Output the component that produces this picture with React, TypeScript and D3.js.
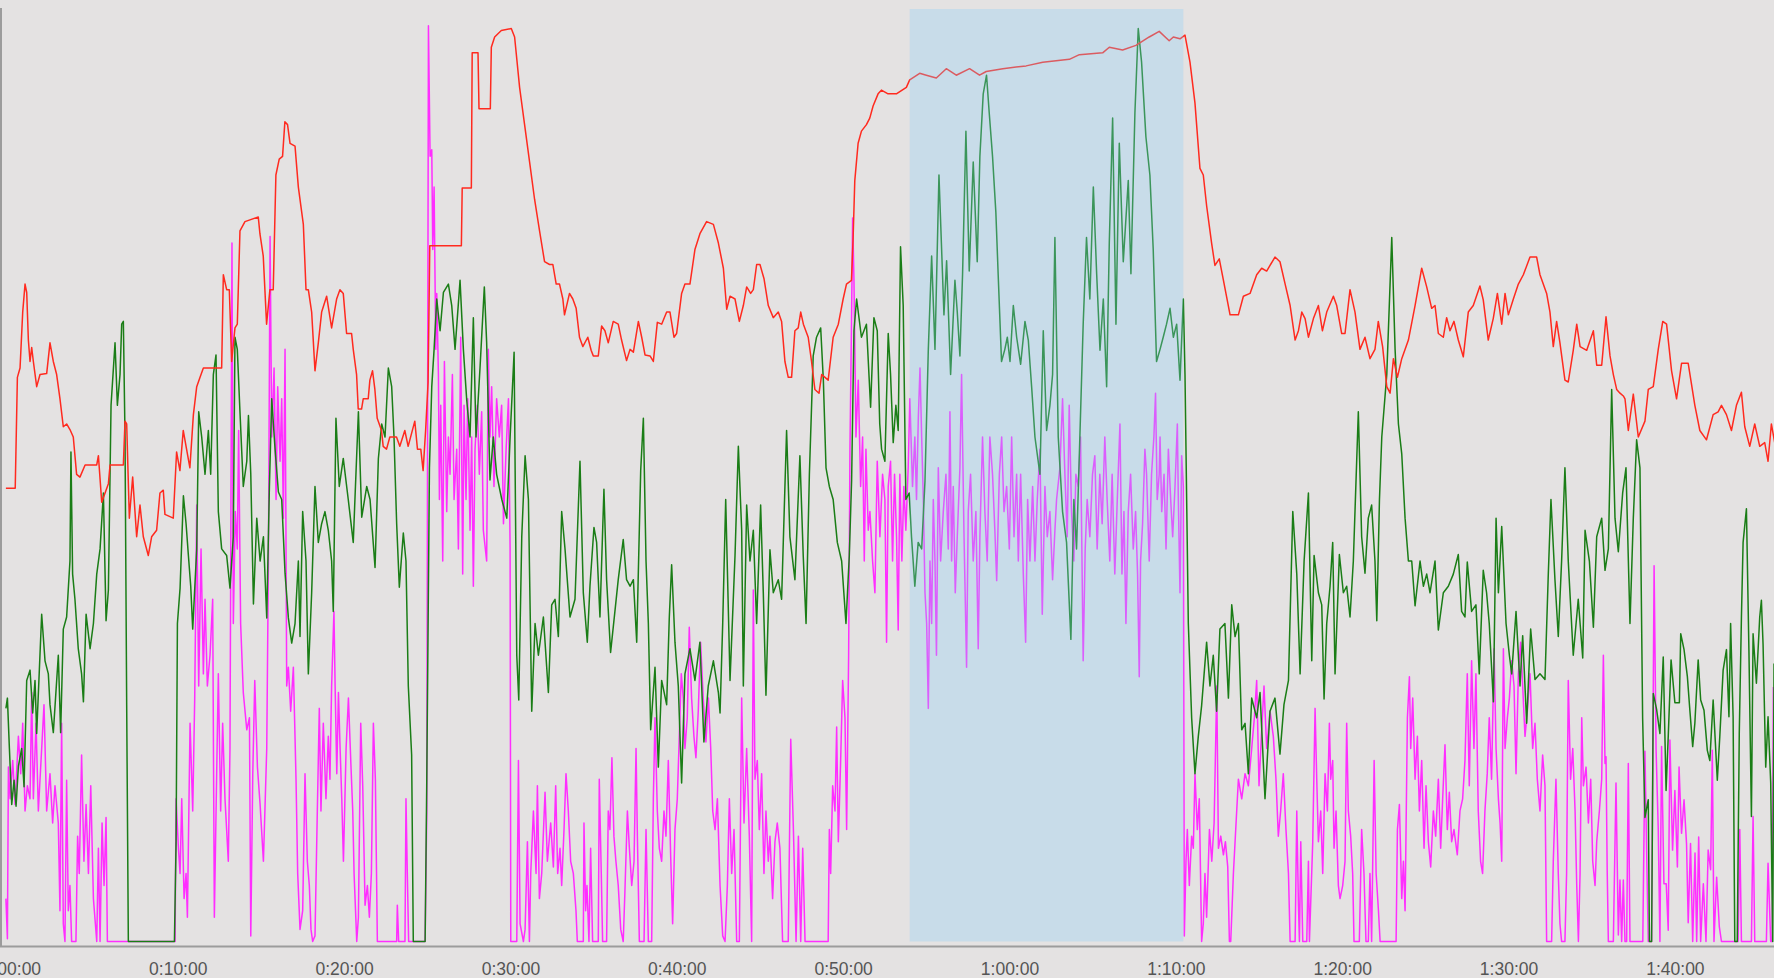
import { useEffect, useRef } from 'react'
import * as d3 from 'd3'

type Pt = [number, number]

// [minutes into ride, value on a shared 0-100 scale]
const heartRate: Pt[] = [
  [-0.33,48.6],[0.23,48.6],[0.36,60.5],[0.52,61.5],[0.68,67.5],[0.82,70.5],[0.92,69.6],[1.02,64.5],[1.12,62.2],[1.22,63.7],[1.32,62.2],[1.52,59.5],[1.72,60.8],[2.12,60.9],[2.32,64.2],[2.52,62.2],[2.72,60.8],[2.92,58.2],[3.12,55.2],[3.32,55.5],[3.52,54.9],[3.72,54.1],[3.92,50.1],[4.12,49.8],[4.43,51.1],[5.13,51.1],[5.23,52.1],[5.43,47.1],[5.63,48.1],[5.83,49.1],[5.93,51.1],[6.73,51.1],[6.83,55.8],[6.93,55.5],[7.09,45.4],[7.29,49.8],[7.53,43.4],[7.73,46.8],[7.93,43.4],[8.23,41.4],[8.43,43.4],[8.73,44.1],[8.93,48.1],[9.13,48.4],[9.23,45.8],[9.73,45.4],[9.93,52.5],[10.13,50.5],[10.33,54.8],[10.53,52.8],[10.73,50.8],[10.94,56.5],[11.14,59.5],[11.34,60.5],[11.54,61.5],[12.64,61.5],[12.74,71.5],[12.94,69.9],[13.1,69.9],[13.24,62.2],[13.44,65.8],[13.58,66.2],[13.74,76.2],[14.04,77.2],[14.84,77.7],[14.94,75.9],[15.14,73.5],[15.34,66.2],[15.54,69.9],[15.74,69.9],[15.9,82.2],[16.1,83.9],[16.3,84.2],[16.44,87.9],[16.6,87.6],[16.75,85.6],[17.05,85.3],[17.25,80.9],[17.55,76.9],[17.71,69.9],[17.85,69.9],[18.05,67.5],[18.25,61.2],[18.45,64.2],[18.65,67.5],[18.95,69.2],[19.25,65.8],[19.55,68.9],[19.75,69.9],[19.95,69.5],[20.15,65.2],[20.45,65.2],[20.55,63.5],[20.75,60.8],[20.85,57.1],[21.05,57.1],[21.15,58.2],[21.45,58.2],[21.55,60.2],[21.71,61.2],[21.85,59.2],[21.99,56.1],[22.25,54.8],[22.35,53.1],[22.55,52.8],[22.75,54.1],[23.15,54.1],[23.35,53.1],[23.65,54.8],[23.85,53.1],[24.25,55.8],[24.41,52.8],[24.61,52.8],[24.75,50.5],[24.9,54.8],[25.05,60],[25.15,74.6],[27.05,74.6],[27.1,80.8],[27.65,80.8],[27.7,95.3],[28.05,95.3],[28.11,89.3],[28.79,89.3],[28.85,95.9],[29.05,97.0],[29.45,97.7],[30.05,97.9],[30.25,97.0],[30.55,91.6],[30.85,87.6],[31.15,83.6],[31.45,79.6],[31.75,76.2],[32.05,72.9],[32.35,72.6],[32.55,72.6],[32.75,70.5],[32.95,70.5],[33.15,68.9],[33.25,67.2],[33.55,69.5],[33.75,68.9],[33.95,67.9],[34.15,64.8],[34.35,63.8],[34.65,64.8],[34.85,63.4],[34.98,62.8],[35.28,62.8],[35.48,66.0],[35.68,65.5],[35.88,64.2],[36.18,66.5],[36.48,66.2],[36.68,64.5],[36.98,62.3],[37.19,63.5],[37.39,63.2],[37.69,66.5],[37.89,64.8],[38.09,62.9],[38.39,62.8],[38.59,62.2],[38.83,66.4],[39.09,66.2],[39.39,67.5],[39.59,67.5],[39.83,64.8],[39.99,65.2],[40.29,69.5],[40.49,70.5],[40.79,70.5],[41.09,74.2],[41.39,75.9],[41.79,77.2],[42.2,76.9],[42.5,74.9],[42.8,72.2],[43.0,67.8],[43.2,69.2],[43.5,68.9],[43.76,66.5],[44.0,68.2],[44.2,70.2],[44.44,69.5],[44.6,69.9],[44.8,72.6],[45.0,72.6],[45.24,71.1],[45.5,68.2],[45.8,66.9],[46.1,67.5],[46.3,66.5],[46.5,62.2],[46.7,60.5],[46.9,60.5],[47.1,65.5],[47.3,65.8],[47.45,67.5],[47.61,66.2],[47.9,64.8],[48.1,62.2],[48.3,59.2],[48.55,58.8],[48.71,60.8],[48.91,60.5],[49.1,60.2],[49.4,64.8],[49.71,66.2],[50.0,68.9],[50.2,70.5],[50.5,70.9],[50.6,75.5],[50.7,81.6],[50.9,85.6],[51.1,86.9],[51.4,87.6],[51.6,88.3],[51.8,89.6],[52.1,90.9],[52.3,91.3],[52.7,90.9],[53.2,90.9],[53.8,91.6],[54.0,92.4],[54.6,93.1],[55.0,92.9],[55.6,92.6],[56.2,93.6],[56.8,92.9],[57.6,93.6],[58.2,92.9],[58.6,93.3],[59.6,93.6],[61.0,93.9],[62.0,94.3],[63.6,94.6],[64.2,95.1],[65.6,95.3],[66.0,95.9],[66.8,95.6],[67.6,96.1],[68.4,97.0],[69.0,97.6],[69.6,96.6],[69.85,97.0],[70.25,96.8],[70.55,97.2],[70.85,94.3],[71.15,89.9],[71.45,82.9],[71.65,82.2],[71.85,78.9],[72.15,74.9],[72.35,72.5],[72.61,73.2],[72.85,71.0],[73.26,67.2],[73.76,67.2],[74.06,69.2],[74.46,69.5],[74.86,71.5],[75.16,72.2],[75.46,71.9],[75.96,73.4],[76.26,72.9],[76.57,70.5],[76.87,68.2],[77.17,64.5],[77.37,65.5],[77.57,67.5],[77.77,66.8],[77.97,64.8],[78.27,66.8],[78.57,68.2],[78.81,65.5],[79.07,67.5],[79.47,69.2],[79.67,68.2],[79.97,65.2],[80.17,65.2],[80.47,69.9],[80.77,67.5],[81.07,63.5],[81.37,64.8],[81.67,62.5],[81.97,63.5],[82.17,66.5],[82.43,63.8],[82.68,59.5],[82.88,58.8],[83.08,62.5],[83.32,60.5],[83.58,62.5],[83.98,64.5],[84.38,68.2],[84.78,72.2],[85.08,70.2],[85.38,67.9],[85.58,68.2],[85.78,65.2],[86.08,64.8],[86.28,66.9],[86.48,65.5],[86.72,66.5],[86.98,64.5],[87.28,62.7],[87.58,67.5],[87.88,68.2],[88.28,70.3],[88.48,68.8],[88.78,64.5],[89.08,66.8],[89.33,69.5],[89.59,66.2],[89.79,69.5],[89.99,67.2],[90.29,68.9],[90.59,70.5],[90.89,71.5],[91.29,73.4],[91.69,73.4],[91.89,71.5],[92.29,69.5],[92.49,67.5],[92.69,63.8],[92.89,66.5],[93.09,64.2],[93.39,60.2],[93.59,60.0],[93.89,63.4],[94.1,66.2],[94.3,63.8],[94.7,63.4],[95.1,65.5],[95.3,61.8],[95.6,61.8],[95.86,67.0],[96.1,62.8],[96.3,60.8],[96.5,59.2],[96.7,58.8],[96.9,58.5],[97.0,58.2],[97.2,54.8],[97.5,58.7],[97.8,54.1],[98.2,55.8],[98.4,59.2],[98.7,59.5],[99.0,63.5],[99.27,66.5],[99.5,66.2],[99.8,61.2],[100.1,58.2],[100.4,62.0],[100.8,62.0],[101.2,57.5],[101.5,54.8],[101.9,53.8],[102.3,56.5],[102.6,56.8],[102.8,57.5],[103.1,56.5],[103.4,54.8],[103.7,57.5],[104.0,58.9],[104.2,55.2],[104.5,53.1],[104.8,55.5],[105.1,53.1],[105.4,53.5],[105.6,51.5],[105.8,55.5],[106.0,53.5]
]

const cadence: Pt[] = [
  [-0.33,25.0],[-0.24,26.1],[-0.12,20.7],[0.02,14.7],[0.16,17.3],[0.28,14.5],[0.42,18.8],[0.62,20.7],[0.76,16.6],[0.92,28.0],[1.12,29.1],[1.28,24.5],[1.42,28.0],[1.52,22.3],[1.82,35.1],[2.02,30.1],[2.22,28.7],[2.32,25.4],[2.52,22.4],[2.82,30.7],[2.96,22.4],[3.12,33.5],[3.32,34.8],[3.52,40.8],[3.58,52.5],[3.68,39.4],[3.82,36.7],[4.02,31.4],[4.22,28.7],[4.33,25.7],[4.49,35.1],[4.73,31.4],[4.93,34.1],[5.13,39.4],[5.33,42.1],[5.53,48.1],[5.69,34.4],[5.83,37.7],[5.99,57.5],[6.23,64.2],[6.37,57.5],[6.53,60.8],[6.63,66.2],[6.73,66.5],[6.83,54.1],[6.93,25.4],[7.03,0],[9.8,0],[9.9,10.7],[9.98,34.1],[10.14,37.9],[10.34,47.8],[10.5,44.8],[10.64,41.4],[10.78,38.1],[10.9,33.5],[11.14,42.1],[11.26,56.8],[11.44,54.1],[11.64,50.1],[11.84,54.8],[11.98,50.1],[12.14,60.8],[12.3,62.9],[12.44,46.1],[12.64,42.1],[12.94,41.4],[13.14,37.9],[13.34,43.4],[13.44,64.8],[13.58,63.5],[13.74,56.8],[13.94,48.8],[14.15,51.5],[14.25,56.4],[14.39,50.1],[14.55,36.2],[14.75,45.4],[14.95,40.8],[15.15,43.4],[15.35,34.7],[15.51,48.8],[15.65,58.2],[15.85,52.8],[16.05,48.2],[16.25,47.4],[16.45,39.5],[16.65,34.7],[16.85,32.0],[17.05,34.1],[17.25,40.8],[17.35,32.7],[17.51,46.1],[17.71,40.8],[17.85,28.7],[18.05,37.4],[18.25,48.8],[18.45,42.8],[18.65,44.8],[18.85,46.1],[19.05,44.1],[19.25,40.8],[19.35,35.4],[19.51,56.1],[19.71,48.8],[19.95,51.8],[20.25,47.4],[20.55,42.8],[20.86,56.8],[21.06,45.5],[21.36,48.8],[21.56,47.4],[21.86,40.1],[22.06,51.8],[22.26,55.5],[22.46,54.1],[22.66,61.5],[22.86,59.5],[23.0,54.1],[23.16,44.8],[23.32,38.0],[23.56,43.8],[23.72,40.8],[23.86,27.4],[24.06,20.0],[24.16,0],[24.87,0],[24.97,17.3],[25.13,50.8],[25.27,59.5],[25.41,63.5],[25.57,68.9],[25.77,65.5],[25.97,69.6],[26.27,70.5],[26.47,68.2],[26.67,63.5],[26.97,70.9],[27.17,63.5],[27.37,58.1],[27.57,54.1],[27.77,66.9],[27.93,54.1],[28.17,61.5],[28.43,70.2],[28.57,64.2],[28.77,49.5],[28.97,54.1],[29.17,50.1],[29.48,47.4],[29.78,45.4],[29.98,54.1],[30.22,63.2],[30.38,30.7],[30.5,25.9],[30.68,43.4],[30.88,52.1],[31.08,47.4],[31.28,24.7],[31.48,34.1],[31.68,30.7],[31.98,34.8],[32.28,26.7],[32.48,36.1],[32.68,36.7],[32.88,32.7],[33.08,46.1],[33.28,42.1],[33.58,34.8],[33.88,36.7],[34.18,51.5],[34.38,37.4],[34.62,32.1],[34.78,38.1],[35.02,44.4],[35.18,42.8],[35.38,34.8],[35.62,48.5],[35.78,38.8],[36.02,31.0],[36.28,35.4],[36.48,38.8],[36.78,43.1],[36.98,38.8],[37.19,38.1],[37.39,38.8],[37.59,32.1],[37.83,50.5],[37.99,56.1],[38.15,40.8],[38.29,34.1],[38.43,22.7],[38.69,29.4],[38.89,18.7],[39.09,28.0],[39.39,25.4],[39.55,34.8],[39.69,40.4],[39.89,32.1],[40.09,27.4],[40.29,17.0],[40.49,28.7],[40.79,31.4],[41.09,28.0],[41.39,32.1],[41.63,21.4],[41.89,27.4],[42.2,30.1],[42.5,26.7],[42.6,24.5],[42.76,34.1],[42.94,47.4],[43.2,28.0],[43.5,41.4],[43.7,53.1],[43.9,44.1],[44.0,27.4],[44.2,46.8],[44.4,40.8],[44.6,44.1],[44.8,34.1],[45.04,46.8],[45.2,37.4],[45.36,26.4],[45.6,42.0],[45.8,37.4],[46.1,38.8],[46.3,36.7],[46.6,54.8],[46.8,43.4],[47.1,38.8],[47.4,52.1],[47.6,41.4],[47.77,34.1],[47.97,50.1],[48.2,62.8],[48.4,64.8],[48.65,65.8],[48.81,60.2],[48.97,50.8],[49.17,48.8],[49.4,47.4],[49.65,42.8],[49.91,40.8],[50.17,34.1],[50.37,41.4],[50.51,49.5],[50.65,65.5],[50.81,68.9],[51.1,64.8],[51.4,66.2],[51.65,57.3],[51.85,66.9],[52.05,65.5],[52.2,55.5],[52.31,52.8],[52.51,51.5],[52.71,65.2],[52.85,60.8],[53.01,53.5],[53.17,57.5],[53.31,54.8],[53.45,74.5],[53.61,68.2],[53.77,47.4],[53.97,48.1],[54.11,43.4],[54.31,38.1],[54.51,42.8],[54.72,42.1],[54.92,49.4],[55.12,63.5],[55.32,73.5],[55.52,63.5],[55.76,82.2],[55.92,74.2],[56.06,67.2],[56.22,73.0],[56.46,60.8],[56.72,70.9],[56.86,67.5],[57.02,62.8],[57.18,71.6],[57.38,86.9],[57.58,71.9],[57.82,83.6],[58.06,72.9],[58.22,84.2],[58.42,90.9],[58.62,92.9],[58.78,88.9],[58.98,84.2],[59.18,78.2],[59.32,71.5],[59.52,62.2],[59.72,63.5],[59.87,64.8],[60.03,62.2],[60.23,68.2],[60.43,64.8],[60.67,61.9],[60.93,66.5],[61.13,64.5],[61.33,59.5],[61.53,54.1],[61.83,50.1],[62.03,65.5],[62.23,54.8],[62.43,57.5],[62.59,60.8],[62.73,75.5],[62.93,54.1],[63.19,46.1],[63.43,42.8],[63.69,32.4],[63.87,47.4],[64.03,42.1],[64.23,54.1],[64.43,66.2],[64.63,75.5],[64.83,68.9],[65.04,80.9],[65.24,71.6],[65.44,63.4],[65.64,68.9],[65.84,59.5],[66.0,75.0],[66.2,88.3],[66.4,66.2],[66.6,85.6],[66.84,72.9],[67.14,81.6],[67.3,71.6],[67.54,88.9],[67.74,97.9],[67.94,94.3],[68.2,86.3],[68.44,82.2],[68.64,74.2],[68.84,62.2],[69.05,63.5],[69.24,64.8],[69.44,66.2],[69.65,67.9],[69.85,64.8],[70.05,66.2],[70.25,60.2],[70.45,68.9],[70.55,60.8],[70.75,34.1],[70.95,24.0],[71.15,18.0],[71.35,22.0],[71.55,25.3],[71.85,32.1],[72.05,27.4],[72.25,30.7],[72.45,24.7],[72.65,33.5],[72.95,34.1],[73.16,26.1],[73.36,36.1],[73.56,32.7],[73.76,34.1],[73.96,22.7],[74.16,23.4],[74.36,18.0],[74.56,26.1],[74.86,24.0],[75.06,26.7],[75.36,15.3],[75.66,24.7],[75.96,26.1],[76.26,20.1],[76.5,25.4],[76.77,28.0],[77.03,46.1],[77.27,39.4],[77.47,28.7],[77.71,40.8],[77.97,48.1],[78.17,30.1],[78.31,41.4],[78.57,37.4],[78.77,36.1],[78.91,26.0],[79.07,34.1],[79.27,38.1],[79.43,42.8],[79.57,28.7],[79.83,41.5],[80.07,37.4],[80.27,38.1],[80.47,34.8],[80.67,40.8],[80.97,56.8],[81.17,43.4],[81.37,39.5],[81.57,45.4],[81.77,46.8],[81.97,40.8],[82.08,34.4],[82.24,47.4],[82.38,54.1],[82.68,60.8],[82.98,75.5],[83.18,63.5],[83.38,55.5],[83.58,52.3],[83.78,45.4],[83.98,40.8],[84.18,40.8],[84.38,36.0],[84.68,40.8],[84.88,38.1],[85.08,39.4],[85.28,37.4],[85.58,40.8],[85.78,33.4],[86.08,37.4],[86.38,38.1],[86.68,39.4],[86.98,41.5],[87.18,35.4],[87.38,34.8],[87.52,40.7],[87.78,35.4],[88.04,36.1],[88.24,28.7],[88.48,39.8],[88.68,37.4],[88.84,34.1],[89.09,25.7],[89.25,45.4],[89.39,37.4],[89.59,44.5],[89.85,34.1],[90.05,30.7],[90.19,28.7],[90.45,35.4],[90.69,27.4],[90.85,32.8],[91.09,23.4],[91.33,33.5],[91.59,28.1],[91.89,28.7],[92.19,28.1],[92.39,39.4],[92.55,47.4],[92.79,38.8],[92.99,32.7],[93.19,40.8],[93.39,50.8],[93.59,40.8],[93.89,30.7],[94.19,36.7],[94.46,30.4],[94.6,44.1],[94.86,40.8],[95.1,33.7],[95.3,43.4],[95.6,45.4],[95.8,39.8],[96.0,42.1],[96.2,59.2],[96.4,45.4],[96.6,41.8],[96.86,48.1],[97.06,50.8],[97.3,34.1],[97.5,45.4],[97.7,53.8],[97.9,50.8],[98.06,24.0],[98.2,13.3],[98.4,15.2],[98.47,0],[98.6,0],[98.7,26.6],[98.9,24.9],[99.1,22.3],[99.3,30.5],[99.47,16.2],[99.6,22.0],[99.77,30.2],[100.0,25.6],[100.27,25.6],[100.35,33.0],[100.55,31.3],[100.75,28.4],[100.9,24.8],[101.07,20.9],[101.2,23.4],[101.4,30.2],[101.55,25.9],[101.75,24.8],[101.95,20.5],[102.1,19.4],[102.3,25.9],[102.55,17.3],[102.7,22.0],[102.9,29.1],[103.1,31.3],[103.25,24.1],[103.35,34.1],[103.5,24.1],[103.6,0],[103.75,0],[103.87,22.3],[104.0,34.8],[104.1,42.8],[104.3,46.4],[104.45,31.3],[104.6,13.4],[104.7,33.0],[104.9,27.7],[105.1,34.8],[105.2,36.6],[105.3,31.9],[105.46,18.7],[105.6,24.1],[105.76,17.0],[105.88,0],[105.96,29.8]
]

const power: Pt[] = [
  [-0.33,4.6],[-0.24,0.3],[-0.18,18.7],[-0.08,15.3],[0.08,19.4],[0.22,14.7],[0.42,22.0],[0.56,18.0],[0.68,23.4],[0.82,14.0],[0.96,16.7],[1.12,15.3],[1.22,26.7],[1.32,15.3],[1.48,23.4],[1.62,14.0],[1.82,20.7],[1.96,25.4],[2.12,14.0],[2.32,18.0],[2.48,12.7],[2.62,16.7],[2.82,12.7],[2.92,3.3],[3.02,23.4],[3.12,1.9],[3.22,0],[3.32,17.3],[3.42,3.3],[3.52,6.0],[3.62,0],[3.88,0],[3.98,11.3],[4.08,7.3],[4.22,20.0],[4.36,8.6],[4.49,14.7],[4.63,7.3],[4.77,16.7],[4.93,4.6],[5.13,0],[5.23,10.0],[5.33,0],[5.45,12.7],[5.57,6.0],[5.69,13.3],[5.77,0],[9.84,0],[9.9,15.3],[10.04,10.0],[10.14,7.3],[10.24,15.3],[10.38,4.6],[10.5,7.3],[10.58,2.6],[10.74,23.4],[10.9,14.0],[11.02,26.1],[11.14,46.8],[11.26,27.4],[11.4,42.1],[11.54,28.7],[11.64,36.7],[11.78,27.4],[11.94,30.7],[12.1,36.7],[12.2,2.6],[12.34,18.0],[12.44,28.7],[12.58,14.0],[12.7,23.4],[12.84,15.3],[13.04,8.6],[13.14,20.7],[13.26,74.9],[13.34,34.1],[13.46,46.1],[13.58,42.1],[13.66,54.8],[13.78,34.1],[13.94,26.7],[14.15,22.7],[14.31,24.0],[14.39,0.6],[14.51,18.0],[14.63,28.0],[14.79,18.7],[14.95,14.7],[15.15,8.6],[15.35,20.7],[15.45,40.8],[15.55,75.6],[15.65,54.1],[15.79,61.5],[15.91,47.4],[16.01,59.5],[16.15,51.5],[16.25,58.2],[16.35,45.4],[16.45,63.5],[16.55,27.4],[16.65,29.4],[16.79,24.7],[16.95,29.4],[17.11,17.4],[17.21,7.3],[17.35,1.3],[17.51,3.3],[17.65,18.0],[17.79,8.6],[17.91,6.0],[18.01,1.3],[18.11,0],[18.25,0.6],[18.39,14.0],[18.51,25.0],[18.61,14.0],[18.75,23.4],[18.91,15.3],[19.05,22.0],[19.15,17.4],[19.25,27.4],[19.39,35.4],[19.46,27.4],[19.56,18.0],[19.66,26.7],[19.76,20.7],[19.86,15.3],[19.96,8.6],[20.12,20.7],[20.26,26.1],[20.4,19.4],[20.52,14.0],[20.6,7.3],[20.76,0],[20.86,2.6],[21.0,23.4],[21.12,16.7],[21.26,3.9],[21.4,6.0],[21.52,2.6],[21.64,7.3],[21.76,23.4],[21.88,17.4],[22.0,0],[23.16,0],[23.2,3.9],[23.28,0],[23.66,0],[23.72,15.3],[23.8,7.3],[23.88,0],[24.87,0],[24.97,14.0],[25.07,98.2],[25.17,84.2],[25.27,84.9],[25.33,74.2],[25.41,80.9],[25.51,63.5],[25.57,69.5],[25.67,60.8],[25.73,47.4],[25.81,57.5],[25.93,40.8],[26.03,62.2],[26.17,46.1],[26.27,54.1],[26.37,50.1],[26.51,60.8],[26.61,47.4],[26.77,52.8],[26.87,42.1],[27.01,64.8],[27.13,39.4],[27.21,57.5],[27.33,47.4],[27.43,58.2],[27.57,44.1],[27.67,54.1],[27.77,38.1],[27.87,52.8],[28.01,57.5],[28.13,50.1],[28.27,56.8],[28.37,44.1],[28.57,40.8],[28.67,63.5],[28.77,54.1],[28.87,59.5],[29.01,48.8],[29.17,58.2],[29.33,54.1],[29.47,57.5],[29.58,44.8],[29.74,52.8],[29.88,58.2],[29.98,42.1],[30.02,0],[30.38,0],[30.48,19.4],[30.58,1.9],[30.78,0],[30.88,1.3],[31.02,10.7],[31.14,0],[31.22,7.3],[31.38,14.0],[31.54,7.3],[31.62,16.7],[31.74,4.6],[31.88,7.3],[32.08,16.0],[32.22,8.6],[32.42,12.7],[32.58,8.0],[32.72,16.7],[32.84,7.3],[32.98,10.0],[33.08,6.0],[33.22,12.0],[33.34,18.0],[33.48,14.0],[33.62,8.6],[33.78,7.3],[33.94,3.3],[34.02,0],[34.38,0],[34.42,12.7],[34.52,3.3],[34.6,6.0],[34.72,0],[34.82,10.0],[34.94,0],[35.28,0],[35.34,17.4],[35.46,7.3],[35.54,0],[35.78,0],[35.88,14.0],[35.98,12.0],[36.1,19.7],[36.22,11.3],[36.34,8.6],[36.48,6.0],[36.63,1.3],[36.78,0],[36.88,5.3],[37.03,14.0],[37.15,10.0],[37.29,6.0],[37.43,8.6],[37.55,20.7],[37.63,11.3],[37.75,0],[38.03,0],[38.15,12.0],[38.29,0],[38.49,0],[38.59,15.3],[38.69,24.0],[38.83,14.0],[38.95,10.0],[39.09,8.6],[39.23,14.0],[39.35,11.3],[39.49,19.4],[39.63,9.3],[39.75,1.9],[39.89,12.0],[40.03,15.3],[40.15,22.0],[40.27,28.7],[40.39,26.1],[40.49,20.7],[40.63,24.0],[40.75,33.7],[40.89,26.1],[41.03,22.0],[41.15,19.7],[41.29,24.7],[41.43,32.1],[41.59,26.1],[41.75,21.4],[41.9,26.1],[42.04,20.7],[42.16,14.0],[42.3,12.0],[42.44,15.3],[42.6,6.0],[42.76,0.6],[42.9,0],[43.04,6.0],[43.16,15.3],[43.3,7.3],[43.44,12.0],[43.6,0],[43.76,0],[43.9,26.1],[44.04,12.7],[44.2,20.7],[44.36,11.3],[44.5,0],[44.6,37.7],[44.7,17.4],[44.84,19.4],[44.96,12.0],[45.1,18.0],[45.24,7.3],[45.36,14.0],[45.5,8.6],[45.6,11.3],[45.76,4.6],[45.9,10.7],[46.04,12.7],[46.2,10.0],[46.36,0],[46.7,0],[46.85,21.7],[47.01,12.0],[47.17,0],[47.31,11.3],[47.45,0],[47.57,10.0],[47.71,0],[49.1,0],[49.17,12.0],[49.25,7.3],[49.37,16.7],[49.51,14.0],[49.61,23.0],[49.71,10.7],[49.85,19.4],[49.97,28.0],[50.11,24.0],[50.21,12.0],[50.33,30.7],[50.41,52.8],[50.51,67.5],[50.57,77.6],[50.65,70.9],[50.77,54.1],[50.91,60.2],[51.05,48.8],[51.17,54.1],[51.27,40.8],[51.37,52.8],[51.51,44.1],[51.61,46.1],[51.77,40.8],[51.91,37.4],[52.05,51.5],[52.21,43.4],[52.37,50.1],[52.51,47.4],[52.61,32.1],[52.71,48.8],[52.85,51.5],[52.97,40.8],[53.09,50.1],[53.21,43.4],[53.31,33.4],[53.41,50.1],[53.53,40.8],[53.65,48.8],[53.77,44.1],[53.91,50.8],[54.01,58.2],[54.17,48.8],[54.31,54.1],[54.41,47.4],[54.52,56.2],[54.62,61.5],[54.72,54.1],[54.82,47.4],[54.92,37.4],[55.02,34.1],[55.12,25.0],[55.22,40.8],[55.32,34.1],[55.42,47.4],[55.52,40.8],[55.61,30.7],[55.72,50.8],[55.86,40.8],[56.02,46.1],[56.18,50.1],[56.32,42.1],[56.42,56.8],[56.52,40.8],[56.62,48.8],[56.74,37.4],[56.86,43.4],[57.02,50.8],[57.12,60.8],[57.26,44.1],[57.42,29.4],[57.52,46.1],[57.66,50.1],[57.82,40.8],[57.98,46.1],[58.12,31.4],[58.22,43.4],[58.38,54.1],[58.52,46.1],[58.66,40.8],[58.82,54.1],[58.98,50.1],[59.12,44.1],[59.23,38.7],[59.39,50.1],[59.53,54.1],[59.67,46.1],[59.83,48.8],[59.99,42.1],[60.13,54.1],[60.27,43.4],[60.43,50.1],[60.53,40.8],[60.67,50.1],[60.83,39.4],[60.97,32.1],[61.09,47.4],[61.23,40.8],[61.39,48.8],[61.53,40.8],[61.67,47.4],[61.83,52.8],[61.97,35.1],[62.13,48.8],[62.27,43.4],[62.43,46.1],[62.59,38.8],[62.73,44.1],[62.83,47.4],[63.03,50.8],[63.19,58.2],[63.33,50.1],[63.47,43.4],[63.59,57.5],[63.73,46.1],[63.87,40.8],[63.99,50.1],[64.13,48.8],[64.27,54.1],[64.43,30.1],[64.55,42.1],[64.67,47.4],[64.83,43.4],[64.99,50.1],[65.13,52.1],[65.27,42.1],[65.43,50.1],[65.57,44.8],[65.73,54.1],[65.87,47.4],[66.03,40.8],[66.17,50.1],[66.33,39.4],[66.48,47.4],[66.64,55.5],[66.76,39.4],[66.88,46.1],[67.0,34.1],[67.14,46.1],[67.28,50.1],[67.44,42.1],[67.58,46.1],[67.7,39.4],[67.8,28.4],[67.88,40.8],[68.0,44.8],[68.14,52.8],[68.24,50.1],[68.4,40.8],[68.54,50.1],[68.68,54.1],[68.78,58.8],[68.88,47.4],[69.0,50.1],[69.05,54.1],[69.15,46.1],[69.29,50.1],[69.41,42.1],[69.55,52.8],[69.69,47.4],[69.81,43.4],[69.95,48.8],[70.09,55.5],[70.15,47.4],[70.25,37.4],[70.35,52.1],[70.45,48.8],[70.51,0.6],[70.61,8.6],[70.69,12.0],[70.81,6.0],[70.95,11.3],[71.05,10.0],[71.15,18.0],[71.29,12.0],[71.41,15.3],[71.55,0],[71.65,1.9],[71.75,7.3],[71.85,2.6],[72.02,12.0],[72.16,8.6],[72.3,12.7],[72.46,27.4],[72.56,10.0],[72.7,11.3],[72.86,9.3],[72.98,10.7],[73.12,8.0],[73.22,0],[73.3,0],[73.46,7.3],[73.62,12.7],[73.76,17.4],[73.96,15.3],[74.16,18.0],[74.36,16.7],[74.56,20.7],[74.72,24.0],[74.86,28.0],[75.0,16.7],[75.16,22.7],[75.3,27.4],[75.46,20.7],[75.66,24.7],[75.86,22.0],[76.02,17.4],[76.16,11.3],[76.3,14.0],[76.46,18.0],[76.62,12.0],[76.77,7.3],[76.87,0],[77.17,0],[77.27,14.0],[77.37,3.9],[77.43,0],[77.51,10.7],[77.63,0],[77.87,0],[77.97,8.6],[78.03,0],[78.23,10.7],[78.37,25.0],[78.47,17.4],[78.57,10.7],[78.71,14.0],[78.83,7.3],[78.97,18.0],[79.11,14.0],[79.23,23.4],[79.31,17.4],[79.43,19.4],[79.51,10.0],[79.63,14.0],[79.77,6.0],[79.87,4.6],[80.03,6.0],[80.17,8.6],[80.27,23.4],[80.37,14.0],[80.51,11.3],[80.63,7.3],[80.71,0],[81.03,0],[81.17,12.0],[81.31,7.3],[81.43,0],[81.57,0],[81.67,7.3],[81.77,0],[81.92,19.4],[82.04,7.3],[82.18,3.3],[82.28,0],[83.24,0],[83.32,12.0],[83.44,14.7],[83.58,4.6],[83.68,8.6],[83.78,3.3],[83.92,24.0],[84.04,28.4],[84.12,20.7],[84.24,26.1],[84.38,17.4],[84.52,22.0],[84.64,14.0],[84.78,19.4],[84.92,10.0],[85.04,16.7],[85.18,10.7],[85.32,8.0],[85.48,14.0],[85.62,11.3],[85.78,17.4],[85.92,10.0],[86.04,15.3],[86.18,21.1],[86.32,12.0],[86.44,16.0],[86.58,10.7],[86.72,12.0],[86.92,9.3],[87.08,14.0],[87.24,15.3],[87.38,19.4],[87.52,28.7],[87.64,16.7],[87.78,30.1],[87.92,20.7],[88.04,28.7],[88.18,14.0],[88.32,8.6],[88.44,7.3],[88.58,14.0],[88.72,18.0],[88.84,24.0],[88.98,17.4],[89.13,31.4],[89.25,20.7],[89.39,15.3],[89.49,12.7],[89.59,8.6],[89.69,31.4],[89.79,20.7],[89.93,24.0],[90.05,26.1],[90.19,30.1],[90.33,27.4],[90.45,18.0],[90.59,28.7],[90.73,32.1],[90.85,27.4],[90.99,22.0],[91.13,24.7],[91.29,28.7],[91.45,20.7],[91.59,23.4],[91.73,17.4],[91.89,14.0],[92.05,20.0],[92.19,16.7],[92.29,0],[92.59,0],[92.69,8.6],[92.85,17.4],[92.99,7.3],[93.09,1.9],[93.19,0],[93.39,0],[93.49,7.3],[93.59,28.0],[93.73,17.4],[93.86,20.7],[94.0,14.0],[94.1,6.0],[94.2,0],[94.3,7.3],[94.4,24.0],[94.5,16.7],[94.66,18.7],[94.8,12.7],[94.94,17.4],[95.06,8.6],[95.2,6.0],[95.3,10.7],[95.46,14.0],[95.6,17.4],[95.7,30.7],[95.8,19.1],[95.86,19.8],[95.93,7.7],[96.0,0],[96.3,0],[96.46,17.0],[96.6,0.7],[96.7,6.6],[96.8,0],[96.9,6.6],[97.0,0],[97.1,0],[97.2,19.1],[97.3,0],[98.07,0],[98.2,20.4],[98.3,9.8],[98.4,0],[98.6,0],[98.75,40.3],[98.87,20.5],[99.0,12.0],[99.1,0],[99.2,20.9],[99.34,6.2],[99.48,6.2],[99.6,1.2],[99.7,21.6],[99.86,9.8],[100.0,16.2],[100.15,8.0],[100.25,18.7],[100.4,11.6],[100.55,15.2],[100.7,10.5],[100.8,2.0],[100.94,10.5],[101.07,0],[101.21,9.5],[101.31,0],[101.43,11.2],[101.55,0],[101.71,6.2],[101.87,0],[102.0,9.8],[102.15,7.7],[102.25,20.5],[102.35,0],[102.51,6.9],[102.67,1.6],[102.8,0],[103.8,0],[103.9,12.0],[104.0,0],[104.6,0],[104.7,13.4],[104.8,0],[105.5,0],[105.6,8.4],[105.76,0],[105.85,0],[105.92,27.3]
]

const tickMinutes = [0, 10, 20, 30, 40, 50, 60, 70, 80, 90, 100]
const selectedRange = [54.0, 70.45]

function formatTime(m: number) {
    const h = Math.floor(m / 60)
    const mm = m % 60
    return `${h}:${String(mm).padStart(2, '0')}:00`
}

export default function App() {
    const svgRef = useRef<SVGSVGElement>(null)

    useEffect(() => {
        if (!svgRef.current) return
        const width = 1774
        const height = 978
        const svg = d3.select(svgRef.current)
        svg.attr('width', width).attr('height', height)
        svg.selectAll('*').remove()

        const x = d3.scaleLinear().domain([0, 106]).range([11.4, 1774.7])
        const y = d3.scaleLinear().domain([0, 100]).range([941.5, 9])

        svg.append('rect')
            .attr('width', width)
            .attr('height', height)
            .attr('fill', '#e4e2e2')

        const line = d3.line<Pt>()
            .x(d => x(d[0]))
            .y(d => y(d[1]))

        // power at the back, then cadence, heart rate on top
        const series: [Pt[], string][] = [
            [power, '#ff2eff'],
            [cadence, '#1a7d16'],
            [heartRate, '#ff2a1f'],
        ]
        series.forEach(([data, color]) => {
            svg.append('path')
                .datum(data)
                .attr('fill', 'none')
                .attr('stroke', color)
                .attr('stroke-width', 1.5)
                .attr('stroke-linejoin', 'round')
                .attr('d', line)
        })

        // selected interval, tinted over the lines
        svg.append('rect')
            .attr('x', x(selectedRange[0]))
            .attr('y', y(100))
            .attr('width', x(selectedRange[1]) - x(selectedRange[0]))
            .attr('height', y(0) - y(100))
            .attr('fill', '#87cefa')
            .attr('opacity', 0.3)

        const xAxis = d3.axisBottom(x)
            .tickValues(tickMinutes)
            .tickFormat(d => formatTime(d as number))
            .tickSize(0)
            .tickPadding(16)

        const g = svg.append('g')
            .attr('transform', `translate(0,947)`)
            .call(xAxis)
        g.select('.domain').remove()
        g.selectAll('text')
            .attr('font-family', '"Liberation Sans", Arial, sans-serif')
            .attr('font-size', '17.5px')
            .attr('fill', '#555')

        svg.append('line')
            .attr('x1', 0).attr('x2', width)
            .attr('y1', 946.5).attr('y2', 946.5)
            .attr('stroke', '#9c9c9c')
            .attr('stroke-width', 2)
        svg.append('line')
            .attr('x1', 1).attr('x2', 1)
            .attr('y1', 8).attr('y2', 947)
            .attr('stroke', '#9c9c9c')
            .attr('stroke-width', 2)
    }, [])

    return <svg ref={svgRef} style={{ position: 'fixed', left: 0, top: 0, display: 'block' }} />
}
